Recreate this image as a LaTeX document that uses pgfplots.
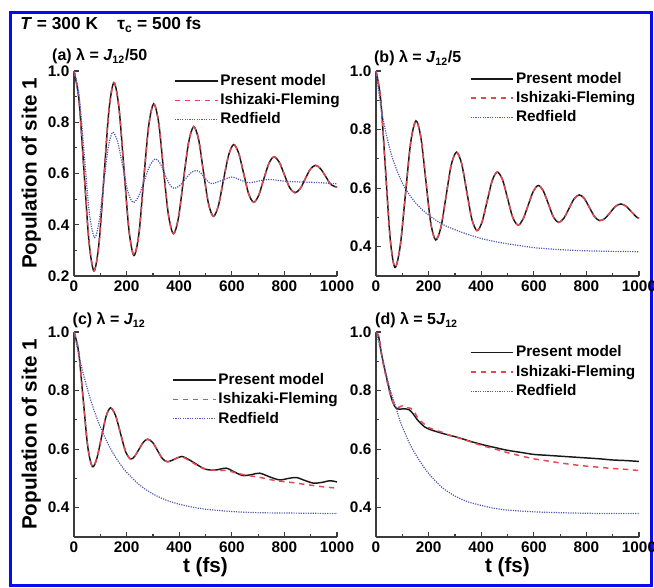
\documentclass[border=0pt]{standalone}
\usepackage{pgfplots}
\pgfplotsset{compat=1.18}
\usepackage{fontspec}
\setmainfont{Liberation Sans}

\definecolor{pmcol}{RGB}{25,25,25}
\definecolor{ifcol}{RGB}{230,70,80}
\definecolor{rfcol}{RGB}{80,90,175}
\definecolor{axcol}{RGB}{60,60,60}
\definecolor{framecol}{RGB}{10,10,240}

\newcommand{\lab}{\fontsize{11.5}{13}\selectfont\bfseries}
\newcommand{\ttl}{\fontsize{12}{14}\selectfont\bfseries}
\newcommand{\biglab}{\fontsize{15.5}{18}\selectfont\bfseries}

\pgfplotsset{
  panel/.style={
    scale only axis, width=197.25pt, height=153.75pt, anchor=south west,
    axis lines*=left, axis line style={axcol, line width=1.1pt},
    xmin=0, xmax=1000,
    xtick={0,200,400,600,800,1000}, xticklabels={0,200,400,600,800,1000},
    minor x tick num=1,
    tick align=inside, major tick length=3.5pt, minor tick length=2pt,
    every tick/.style={axcol, line width=0.9pt},
    ticklabel style={font=\lab},
    clip=false,
    legend cell align=left,
    legend image code/.code={\draw[##1] (0pt,0pt) -- (32pt,0pt);},
    legend style={draw=none, fill=none, anchor=north west, inner sep=0pt,
      font=\lab, row sep=0pt,
      nodes={inner sep=1.5pt, text height=9pt, text depth=2.5pt}},
  },
  ylow/.style={ymin=0.3, ymax=1.0,
    ytick={0.4,0.6,0.8,1.0}, yticklabels={0.4,0.6,0.8,1.0},
    minor ytick={0.3,0.5,0.7,0.9}},
  ylab/.style={ylabel={Population of site 1},
    ylabel style={font=\biglab, at={(axis description cs:-0.125,0.5)}, anchor=south, inner sep=0pt}},
  xlab/.style={xlabel={t (fs)},
    xlabel style={font=\biglab, at={(axis description cs:0.5,-0.1)}, anchor=north, inner sep=0pt}},
  pm/.style={pmcol, line width=1.1pt, smooth},
  isf/.style={ifcol, line width=1.1pt, smooth, dash pattern=on 4pt off 3.5pt},
  rf/.style={rfcol, line width=0.9pt, smooth, dash pattern=on 0.9pt off 0.9pt},
}

% panel (a)
\pgfplotstableread{
t v
0 1.0
19 0.886
38 0.61
57 0.334
76 0.22
95 0.327
114 0.5875
133 0.848
152 0.955
171 0.856
190 0.6175
209 0.379
228 0.28
247 0.366
265 0.576
284 0.786
303 0.872
322 0.798
340 0.6185
359 0.439
378 0.365
397 0.426
416 0.574
436 0.722
455 0.783
474 0.732
492 0.608
511 0.484
530 0.433
549 0.474
568 0.573
588 0.672
607 0.713
626 0.68
645 0.6005
664 0.521
683 0.488
702 0.514
721 0.5765
741 0.639
760 0.665
780 0.645
800 0.595
820 0.545
840 0.525
860 0.541
879 0.5785
898 0.616
918 0.632
937 0.619
957 0.5885
976 0.558
1000 0.546
}\pmA
\pgfplotstableread{
t v
0 1.0
19.5 0.905
39 0.675
58.5 0.445
78 0.35
95 0.41
112.5 0.5555
130 0.701
147 0.761
166.5 0.721
186 0.624
205.5 0.527
225 0.487
246 0.512
267.5 0.572
289 0.632
310 0.657
327.5 0.64
345 0.5995
362.5 0.559
380 0.542
401 0.552
422.5 0.577
444 0.602
465 0.612
480 0.604
495 0.586
510 0.568
525 0.56
562 0.573
600 0.586
632 0.575
665 0.564
702 0.5705
740 0.577
800 0.57
860 0.567
920 0.565
1000 0.56
}\rfA

% panel (b)
\pgfplotstableread{
t v
0 1.0
18 0.902
36 0.6645
54 0.427
72 0.329
92 0.402
112 0.5795
132 0.757
152 0.83
171 0.771
189.5 0.6265
208 0.482
227 0.423
247 0.467
266.5 0.573
286 0.679
306 0.723
325.5 0.684
345 0.589
364.5 0.494
384 0.455
403 0.484
422.5 0.555
442 0.626
461 0.655
481 0.629
500.5 0.5645
520 0.50
540 0.474
559 0.494
578.5 0.5415
598 0.589
617 0.609
636 0.591
655.5 0.546
675 0.501
694 0.483
714 0.497
733.5 0.53
753 0.563
773 0.577
792.5 0.564
812 0.533
831.5 0.502
851 0.489
871 0.497
891 0.5175
911 0.538
931 0.546
951 0.538
970.5 0.52
990 0.502
1000 0.497
}\pmB
\pgfplotstableread{
t v
0 1.0
10 0.93
20 0.87
40 0.78
60 0.71
80 0.66
100 0.618
125 0.58
150 0.55
175 0.527
200 0.508
250 0.478
300 0.458
350 0.442
400 0.428
450 0.418
500 0.41
600 0.397
700 0.39
800 0.386
900 0.384
1000 0.383
}\rfB

% panel (c)
\pgfplotstableread{
t v
0 1.0
17.5 0.933
35 0.77
52.5 0.607
70 0.54
87 0.569
104.5 0.6405
122 0.712
139 0.741
158 0.715
177 0.6535
196 0.592
215 0.566
231 0.576
247.5 0.60
264 0.624
280 0.634
299 0.623
317.5 0.5955
336 0.568
355 0.557
382 0.5655
410 0.575
445 0.56
490 0.535
515 0.529
541 0.529
579 0.535
610 0.522
642 0.51
675 0.513
706 0.518
745 0.505
782 0.495
815 0.5
846 0.503
878 0.493
910 0.484
940 0.486
973 0.492
1000 0.488
}\pmC
\pgfplotstableread{
t v
0 1.0
17.5 0.933
35 0.77
52.5 0.607
70 0.54
87 0.569
104.5 0.6405
122 0.712
139 0.741
158 0.715
177 0.6535
196 0.592
215 0.566
231 0.576
247.5 0.60
264 0.624
280 0.634
299 0.623
317.5 0.5955
336 0.568
355 0.557
382 0.5655
410 0.574
445 0.557
490 0.535
540 0.527
580 0.527
620 0.518
660 0.51
700 0.505
740 0.497
780 0.491
820 0.487
860 0.482
900 0.477
950 0.471
1000 0.467
}\ifC
\pgfplotstableread{
t v
0 1.0
20 0.914
40 0.841
60 0.778
80 0.723
100 0.676
125 0.626
150 0.584
175 0.550
200 0.521
250 0.477
300 0.447
350 0.426
400 0.412
450 0.402
500 0.395
600 0.387
700 0.383
800 0.382
900 0.381
1000 0.38
}\rfC

% panel (d)
\pgfplotstableread{
t v
0 1.0
10 0.985
20 0.93
30 0.885
40 0.845
50 0.805
60 0.77
70 0.748
80 0.738
95 0.737
110 0.738
125 0.735
140 0.722
155 0.703
170 0.688
185 0.676
205 0.667
230 0.66
256 0.653
290 0.645
319 0.638
350 0.629
381 0.621
420 0.612
450 0.606
500 0.596
550 0.589
600 0.582
650 0.579
700 0.576
750 0.573
800 0.57
850 0.567
900 0.563
950 0.561
1000 0.558
}\pmD
\pgfplotstableread{
t v
0 1.0
10 0.985
20 0.93
30 0.88
40 0.84
50 0.8
60 0.77
70 0.75
85 0.742
100 0.748
115 0.742
130 0.74
145 0.728
160 0.705
180 0.688
200 0.674
225 0.665
250 0.658
280 0.647
320 0.637
360 0.625
400 0.613
450 0.601
500 0.588
550 0.577
600 0.567
650 0.56
700 0.553
750 0.547
800 0.542
850 0.538
900 0.534
950 0.531
1000 0.527
}\ifD
\pgfplotstableread{
t v
0 1.0
20 0.93
40 0.85
60 0.785
75 0.745
90 0.70
110 0.655
130 0.615
150 0.583
175 0.548
200 0.517
250 0.47
300 0.44
350 0.42
400 0.408
450 0.398
500 0.392
600 0.386
700 0.383
800 0.381
900 0.38
1000 0.38
}\rfD

\begin{document}
\begin{tikzpicture}
\useasboundingbox (0,0) rectangle (490.5pt,440.25pt);
\draw[framecol, line width=2.25pt] (7.5pt,1.5pt) rectangle (488.25pt,430.5pt);
\node[anchor=base west, inner sep=0, font=\fontsize{13}{15}\selectfont\bfseries] at (15pt,417.75pt) {\textit{T} = 300 K};
\node[anchor=base west, inner sep=0, font=\fontsize{13}{15}\selectfont\bfseries] at (87.75pt,417.75pt) {τ\textsubscript{c} = 500 fs};

% (a)
\begin{axis}[panel, ylab, at={(55.5pt,233.25pt)},
  ymin=0.2, ymax=1.0, ytick={0.2,0.4,0.6,0.8,1.0}, yticklabels={0.2,0.4,0.6,0.8,1.0},
  minor ytick={0.3,0.5,0.7,0.9},
  legend style={at={(axis description cs:0.38,1.0)}}]
\addplot[pm] table[x=t,y=v] {\pmA};
\addlegendentry{Present model}
\addplot[isf] table[x=t,y=v] {\pmA};
\addlegendentry{Ishizaki-Fleming}
\addplot[rf] table[x=t,y=v] {\rfA};
\addlegendentry{Redfield}
\node[anchor=base west, inner sep=0, font=\ttl] at (rel axis cs:-0.084,1.05) {(a) λ = \textit{J}\textsubscript{12}/50};
\end{axis}

% (b)
\begin{axis}[panel, ylow, at={(282pt,233.25pt)},
  legend style={at={(axis description cs:0.356,1.01)}}]
\addplot[pm] table[x=t,y=v] {\pmB};
\addlegendentry{Present model}
\addplot[isf] table[x=t,y=v] {\pmB};
\addlegendentry{Ishizaki-Fleming}
\addplot[rf] table[x=t,y=v] {\rfB};
\addlegendentry{Redfield}
\node[anchor=base west, inner sep=0, font=\ttl] at (rel axis cs:-0.008,1.04) {(b) λ = \textit{J}\textsubscript{12}/5};
\end{axis}

% (c)
\begin{axis}[panel, ylow, ylab, xlab, at={(55.5pt,37.5pt)},
  legend style={at={(axis description cs:0.373,0.814)}}]
\addplot[pm] table[x=t,y=v] {\pmC};
\addlegendentry{Present model}
\addplot[isf] table[x=t,y=v] {\ifC};
\addlegendentry{Ishizaki-Fleming}
\addplot[rf] table[x=t,y=v] {\rfC};
\addlegendentry{Redfield}
\node[anchor=base west, inner sep=0, font=\ttl] at (rel axis cs:-0.006,1.035) {(c) λ = \textit{J}\textsubscript{12}};
\end{axis}

% (d)
\begin{axis}[panel, ylow, xlab, at={(282pt,37.5pt)},
  legend style={at={(axis description cs:0.356,0.948)}}]
\addplot[pm] table[x=t,y=v] {\pmD};
\addlegendentry{Present model}
\addplot[isf] table[x=t,y=v] {\ifD};
\addlegendentry{Ishizaki-Fleming}
\addplot[rf] table[x=t,y=v] {\rfD};
\addlegendentry{Redfield}
\node[anchor=base west, inner sep=0, font=\ttl] at (rel axis cs:-0.004,1.035) {(d) λ = 5\textit{J}\textsubscript{12}};
\end{axis}
\end{tikzpicture}
\end{document}
